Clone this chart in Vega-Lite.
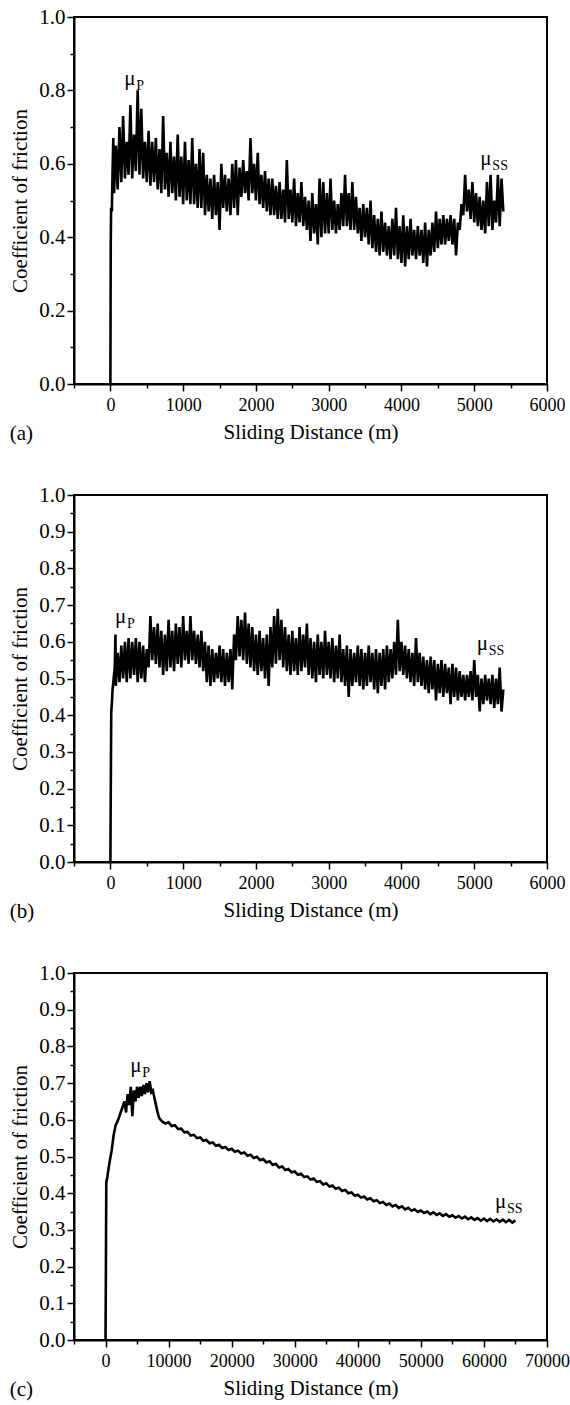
{
"$schema": "https://vega.github.io/schema/vega-lite/v6.json",
"padding": {"left": 8, "top": 5, "right": 5, "bottom": 5},
"spacing": 38,
"background": "white",
"config": {
  "font": "Liberation Serif, Times New Roman, serif",
  "view": {"stroke": "black", "strokeWidth": 2},
  "axis": {"domainColor": "black", "domainWidth": 2, "tickColor": "black", "tickWidth": 1.5, "labelColor": "black", "titleColor": "black", "labelFont": "Liberation Serif, Times New Roman, serif", "titleFont": "Liberation Serif, Times New Roman, serif", "titleFontWeight": "normal", "grid": false, "titleFontSize": 21, "labelFlush": false, "labelOverlap": false, "labelBound": false},
  "text": {"font": "Liberation Serif, Times New Roman, serif"},
  "title": {"font": "Liberation Serif, Times New Roman, serif", "fontSize": 21, "fontWeight": "normal", "color": "black"}
},
"datasets": {
"a": [{"d":0,"mu":0},{"d":5,"mu":0.38},{"d":10,"mu":0.48},{"d":20,"mu":0.47},{"d":30,"mu":0.58},{"d":40,"mu":0.67},
{"d":50,"mu":0.52},{"d":75,"mu":0.65},{"d":100,"mu":0.53},{"d":125,"mu":0.70},{"d":150,"mu":0.55},{"d":175,"mu":0.73},{"d":200,"mu":0.56},{"d":225,"mu":0.66},{"d":250,"mu":0.57},{"d":275,"mu":0.76},{"d":300,"mu":0.56},{"d":325,"mu":0.68},{"d":350,"mu":0.58},{"d":375,"mu":0.80},{"d":400,"mu":0.57},{"d":425,"mu":0.75},{"d":450,"mu":0.56},{"d":475,"mu":0.66},{"d":500,"mu":0.55},{"d":525,"mu":0.69},{"d":550,"mu":0.54},{"d":575,"mu":0.66},{"d":600,"mu":0.55},{"d":625,"mu":0.67},{"d":650,"mu":0.53},{"d":675,"mu":0.64},{"d":700,"mu":0.52},{"d":725,"mu":0.73},{"d":750,"mu":0.53},{"d":775,"mu":0.63},{"d":800,"mu":0.51},{"d":825,"mu":0.66},{"d":850,"mu":0.52},{"d":875,"mu":0.62},{"d":900,"mu":0.50},{"d":925,"mu":0.68},{"d":950,"mu":0.51},{"d":975,"mu":0.62},
{"d":1000,"mu":0.49},{"d":1025,"mu":0.66},{"d":1050,"mu":0.50},{"d":1075,"mu":0.61},{"d":1100,"mu":0.49},{"d":1125,"mu":0.67},{"d":1150,"mu":0.49},{"d":1175,"mu":0.60},{"d":1200,"mu":0.48},{"d":1225,"mu":0.64},{"d":1250,"mu":0.48},{"d":1275,"mu":0.63},{"d":1300,"mu":0.46},{"d":1325,"mu":0.57},{"d":1350,"mu":0.47},{"d":1375,"mu":0.56},{"d":1400,"mu":0.45},{"d":1425,"mu":0.57},{"d":1450,"mu":0.46},{"d":1475,"mu":0.55},{"d":1500,"mu":0.42},{"d":1525,"mu":0.60},{"d":1550,"mu":0.48},{"d":1575,"mu":0.57},{"d":1600,"mu":0.47},{"d":1625,"mu":0.56},{"d":1650,"mu":0.46},{"d":1675,"mu":0.60},{"d":1700,"mu":0.48},{"d":1725,"mu":0.61},{"d":1750,"mu":0.46},{"d":1775,"mu":0.59},{"d":1800,"mu":0.51},{"d":1825,"mu":0.61},{"d":1850,"mu":0.52},{"d":1875,"mu":0.58},{"d":1900,"mu":0.50},{"d":1925,"mu":0.67},{"d":1950,"mu":0.52},{"d":1975,"mu":0.60},
{"d":2000,"mu":0.50},{"d":2025,"mu":0.63},{"d":2050,"mu":0.49},{"d":2075,"mu":0.57},{"d":2100,"mu":0.48},{"d":2125,"mu":0.58},{"d":2150,"mu":0.47},{"d":2175,"mu":0.56},{"d":2200,"mu":0.46},{"d":2225,"mu":0.56},{"d":2250,"mu":0.46},{"d":2275,"mu":0.54},{"d":2300,"mu":0.45},{"d":2325,"mu":0.55},{"d":2350,"mu":0.45},{"d":2375,"mu":0.53},{"d":2400,"mu":0.44},{"d":2425,"mu":0.61},{"d":2450,"mu":0.45},{"d":2475,"mu":0.53},{"d":2500,"mu":0.44},{"d":2525,"mu":0.56},{"d":2550,"mu":0.43},{"d":2575,"mu":0.52},{"d":2600,"mu":0.44},{"d":2625,"mu":0.55},{"d":2650,"mu":0.43},{"d":2675,"mu":0.51},{"d":2700,"mu":0.42},{"d":2725,"mu":0.50},{"d":2750,"mu":0.39},{"d":2775,"mu":0.52},{"d":2800,"mu":0.41},{"d":2825,"mu":0.49},{"d":2850,"mu":0.38},{"d":2875,"mu":0.56},{"d":2900,"mu":0.40},{"d":2925,"mu":0.55},{"d":2950,"mu":0.41},{"d":2975,"mu":0.52},
{"d":3000,"mu":0.41},{"d":3025,"mu":0.56},{"d":3050,"mu":0.42},{"d":3075,"mu":0.50},{"d":3100,"mu":0.41},{"d":3125,"mu":0.49},{"d":3150,"mu":0.42},{"d":3175,"mu":0.52},{"d":3200,"mu":0.43},{"d":3225,"mu":0.57},{"d":3250,"mu":0.43},{"d":3275,"mu":0.52},{"d":3300,"mu":0.42},{"d":3325,"mu":0.55},{"d":3350,"mu":0.42},{"d":3375,"mu":0.51},{"d":3400,"mu":0.41},{"d":3425,"mu":0.48},{"d":3450,"mu":0.39},{"d":3475,"mu":0.49},{"d":3500,"mu":0.40},{"d":3525,"mu":0.48},{"d":3550,"mu":0.38},{"d":3575,"mu":0.50},{"d":3600,"mu":0.37},{"d":3625,"mu":0.46},{"d":3650,"mu":0.36},{"d":3675,"mu":0.45},{"d":3700,"mu":0.35},{"d":3725,"mu":0.47},{"d":3750,"mu":0.36},{"d":3775,"mu":0.44},{"d":3800,"mu":0.35},{"d":3825,"mu":0.43},{"d":3850,"mu":0.34},{"d":3875,"mu":0.45},{"d":3900,"mu":0.35},{"d":3925,"mu":0.48},{"d":3950,"mu":0.34},{"d":3975,"mu":0.43},
{"d":4000,"mu":0.33},{"d":4025,"mu":0.46},{"d":4050,"mu":0.32},{"d":4075,"mu":0.43},{"d":4100,"mu":0.34},{"d":4125,"mu":0.45},{"d":4150,"mu":0.35},{"d":4175,"mu":0.42},{"d":4200,"mu":0.34},{"d":4225,"mu":0.43},{"d":4250,"mu":0.35},{"d":4275,"mu":0.42},{"d":4300,"mu":0.33},{"d":4325,"mu":0.44},{"d":4350,"mu":0.32},{"d":4375,"mu":0.42},{"d":4400,"mu":0.35},{"d":4425,"mu":0.44},{"d":4450,"mu":0.36},{"d":4475,"mu":0.47},{"d":4500,"mu":0.37},{"d":4525,"mu":0.45},{"d":4550,"mu":0.38},{"d":4575,"mu":0.46},{"d":4600,"mu":0.38},{"d":4625,"mu":0.45},{"d":4650,"mu":0.39},{"d":4675,"mu":0.46},{"d":4700,"mu":0.38},{"d":4725,"mu":0.45},{"d":4750,"mu":0.35},{"d":4775,"mu":0.44},{"d":4800,"mu":0.42},{"d":4825,"mu":0.49},{"d":4850,"mu":0.46},{"d":4875,"mu":0.57},{"d":4900,"mu":0.47},{"d":4925,"mu":0.53},{"d":4950,"mu":0.45},{"d":4975,"mu":0.55},
{"d":5000,"mu":0.44},{"d":5025,"mu":0.52},{"d":5050,"mu":0.43},{"d":5075,"mu":0.51},{"d":5100,"mu":0.42},{"d":5125,"mu":0.50},{"d":5150,"mu":0.41},{"d":5175,"mu":0.55},{"d":5200,"mu":0.43},{"d":5225,"mu":0.57},{"d":5250,"mu":0.42},{"d":5275,"mu":0.50},{"d":5300,"mu":0.44},{"d":5325,"mu":0.57},{"d":5350,"mu":0.43},{"d":5375,"mu":0.56},{"d":5400,"mu":0.47}],
"b": [{"d":0,"mu":0},{"d":8,"mu":0.29},{"d":12,"mu":0.41},{"d":20,"mu":0.43},{"d":30,"mu":0.47},{"d":45,"mu":0.50},{"d":60,"mu":0.53},{"d":70,"mu":0.62},
{"d":75,"mu":0.48},{"d":100,"mu":0.57},{"d":125,"mu":0.49},{"d":150,"mu":0.59},{"d":175,"mu":0.50},{"d":200,"mu":0.60},{"d":225,"mu":0.49},{"d":250,"mu":0.61},{"d":275,"mu":0.50},{"d":300,"mu":0.60},{"d":325,"mu":0.51},{"d":350,"mu":0.61},{"d":375,"mu":0.49},{"d":400,"mu":0.60},{"d":425,"mu":0.50},{"d":450,"mu":0.59},{"d":475,"mu":0.49},{"d":500,"mu":0.58},{"d":525,"mu":0.53},{"d":550,"mu":0.67},{"d":575,"mu":0.55},{"d":600,"mu":0.64},{"d":625,"mu":0.54},{"d":650,"mu":0.65},{"d":675,"mu":0.53},{"d":700,"mu":0.63},{"d":725,"mu":0.51},{"d":750,"mu":0.62},{"d":775,"mu":0.52},{"d":800,"mu":0.66},{"d":825,"mu":0.53},{"d":850,"mu":0.63},{"d":875,"mu":0.52},{"d":900,"mu":0.65},{"d":925,"mu":0.54},{"d":950,"mu":0.64},{"d":975,"mu":0.53},
{"d":1000,"mu":0.67},{"d":1025,"mu":0.55},{"d":1050,"mu":0.63},{"d":1075,"mu":0.54},{"d":1100,"mu":0.67},{"d":1125,"mu":0.55},{"d":1150,"mu":0.63},{"d":1175,"mu":0.54},{"d":1200,"mu":0.62},{"d":1225,"mu":0.53},{"d":1250,"mu":0.63},{"d":1275,"mu":0.52},{"d":1300,"mu":0.60},{"d":1325,"mu":0.49},{"d":1350,"mu":0.59},{"d":1375,"mu":0.48},{"d":1400,"mu":0.58},{"d":1425,"mu":0.49},{"d":1450,"mu":0.57},{"d":1475,"mu":0.50},{"d":1500,"mu":0.59},{"d":1525,"mu":0.49},{"d":1550,"mu":0.58},{"d":1575,"mu":0.48},{"d":1600,"mu":0.57},{"d":1625,"mu":0.49},{"d":1650,"mu":0.58},{"d":1675,"mu":0.47},{"d":1700,"mu":0.62},{"d":1725,"mu":0.55},{"d":1750,"mu":0.67},{"d":1775,"mu":0.56},{"d":1800,"mu":0.66},{"d":1825,"mu":0.55},{"d":1850,"mu":0.68},{"d":1875,"mu":0.54},{"d":1900,"mu":0.65},{"d":1925,"mu":0.53},{"d":1950,"mu":0.64},{"d":1975,"mu":0.52},
{"d":2000,"mu":0.62},{"d":2025,"mu":0.51},{"d":2050,"mu":0.63},{"d":2075,"mu":0.52},{"d":2100,"mu":0.61},{"d":2125,"mu":0.50},{"d":2150,"mu":0.62},{"d":2175,"mu":0.48},{"d":2200,"mu":0.64},{"d":2225,"mu":0.53},{"d":2250,"mu":0.67},{"d":2275,"mu":0.54},{"d":2300,"mu":0.69},{"d":2325,"mu":0.55},{"d":2350,"mu":0.66},{"d":2375,"mu":0.53},{"d":2400,"mu":0.64},{"d":2425,"mu":0.52},{"d":2450,"mu":0.62},{"d":2475,"mu":0.51},{"d":2500,"mu":0.63},{"d":2525,"mu":0.52},{"d":2550,"mu":0.61},{"d":2575,"mu":0.51},{"d":2600,"mu":0.64},{"d":2625,"mu":0.52},{"d":2650,"mu":0.62},{"d":2675,"mu":0.53},{"d":2700,"mu":0.65},{"d":2725,"mu":0.51},{"d":2750,"mu":0.61},{"d":2775,"mu":0.50},{"d":2800,"mu":0.60},{"d":2825,"mu":0.49},{"d":2850,"mu":0.62},{"d":2875,"mu":0.51},{"d":2900,"mu":0.60},{"d":2925,"mu":0.50},{"d":2950,"mu":0.63},{"d":2975,"mu":0.51},
{"d":3000,"mu":0.60},{"d":3025,"mu":0.50},{"d":3050,"mu":0.61},{"d":3075,"mu":0.49},{"d":3100,"mu":0.59},{"d":3125,"mu":0.50},{"d":3150,"mu":0.62},{"d":3175,"mu":0.49},{"d":3200,"mu":0.58},{"d":3225,"mu":0.48},{"d":3250,"mu":0.59},{"d":3275,"mu":0.45},{"d":3300,"mu":0.58},{"d":3325,"mu":0.48},{"d":3350,"mu":0.57},{"d":3375,"mu":0.49},{"d":3400,"mu":0.59},{"d":3425,"mu":0.48},{"d":3450,"mu":0.58},{"d":3475,"mu":0.47},{"d":3500,"mu":0.57},{"d":3525,"mu":0.48},{"d":3550,"mu":0.59},{"d":3575,"mu":0.49},{"d":3600,"mu":0.57},{"d":3625,"mu":0.47},{"d":3650,"mu":0.58},{"d":3675,"mu":0.46},{"d":3700,"mu":0.57},{"d":3725,"mu":0.48},{"d":3750,"mu":0.58},{"d":3775,"mu":0.47},{"d":3800,"mu":0.59},{"d":3825,"mu":0.49},{"d":3850,"mu":0.58},{"d":3875,"mu":0.50},{"d":3900,"mu":0.60},{"d":3925,"mu":0.51},{"d":3950,"mu":0.66},{"d":3975,"mu":0.52},
{"d":4000,"mu":0.60},{"d":4025,"mu":0.51},{"d":4050,"mu":0.59},{"d":4075,"mu":0.50},{"d":4100,"mu":0.58},{"d":4125,"mu":0.49},{"d":4150,"mu":0.57},{"d":4175,"mu":0.48},{"d":4200,"mu":0.61},{"d":4225,"mu":0.49},{"d":4250,"mu":0.57},{"d":4275,"mu":0.48},{"d":4300,"mu":0.56},{"d":4325,"mu":0.47},{"d":4350,"mu":0.55},{"d":4375,"mu":0.46},{"d":4400,"mu":0.56},{"d":4425,"mu":0.47},{"d":4450,"mu":0.55},{"d":4475,"mu":0.44},{"d":4500,"mu":0.54},{"d":4525,"mu":0.46},{"d":4550,"mu":0.55},{"d":4575,"mu":0.45},{"d":4600,"mu":0.54},{"d":4625,"mu":0.46},{"d":4650,"mu":0.53},{"d":4675,"mu":0.43},{"d":4700,"mu":0.54},{"d":4725,"mu":0.45},{"d":4750,"mu":0.53},{"d":4775,"mu":0.44},{"d":4800,"mu":0.52},{"d":4825,"mu":0.45},{"d":4850,"mu":0.51},{"d":4875,"mu":0.44},{"d":4900,"mu":0.51},{"d":4925,"mu":0.45},{"d":4950,"mu":0.52},{"d":4975,"mu":0.44},
{"d":5000,"mu":0.55},{"d":5025,"mu":0.45},{"d":5050,"mu":0.51},{"d":5075,"mu":0.41},{"d":5100,"mu":0.50},{"d":5125,"mu":0.43},{"d":5150,"mu":0.51},{"d":5175,"mu":0.44},{"d":5200,"mu":0.50},{"d":5225,"mu":0.43},{"d":5250,"mu":0.51},{"d":5275,"mu":0.42},{"d":5300,"mu":0.50},{"d":5325,"mu":0.43},{"d":5350,"mu":0.53},{"d":5375,"mu":0.41},{"d":5400,"mu":0.47}],
"c": [{"d":0,"mu":0},{"d":60,"mu":0.20},{"d":120,"mu":0.43},{"d":300,"mu":0.445},{"d":500,"mu":0.47},{"d":800,"mu":0.50},{"d":1000,"mu":0.52},{"d":1300,"mu":0.56},{"d":1600,"mu":0.585},{"d":2000,"mu":0.60},{"d":2400,"mu":0.62},{"d":2700,"mu":0.635},{"d":3000,"mu":0.65},{"d":3250,"mu":0.62},{"d":3500,"mu":0.67},{"d":3750,"mu":0.64},{"d":4000,"mu":0.69},{"d":4250,"mu":0.61},{"d":4500,"mu":0.68},{"d":4750,"mu":0.65},{"d":5000,"mu":0.69},{"d":5250,"mu":0.66},{"d":5500,"mu":0.69},{"d":5750,"mu":0.665},{"d":6000,"mu":0.695},{"d":6250,"mu":0.67},{"d":6500,"mu":0.70},{"d":6750,"mu":0.675},{"d":7000,"mu":0.705},{"d":7250,"mu":0.675},{"d":7500,"mu":0.68},{"d":7750,"mu":0.66},{"d":8000,"mu":0.64},{"d":8250,"mu":0.62},{"d":8500,"mu":0.605},{"d":8750,"mu":0.60},{"d":9000,"mu":0.595},{"d":9500,"mu":0.59},
{"d":10000,"mu":0.593},{"d":10500,"mu":0.583},{"d":11000,"mu":0.585},{"d":11500,"mu":0.575},{"d":12000,"mu":0.576},{"d":12500,"mu":0.566},{"d":13000,"mu":0.567},{"d":13500,"mu":0.557},{"d":14000,"mu":0.559},{"d":14500,"mu":0.550},{"d":15000,"mu":0.552},{"d":15500,"mu":0.543},{"d":16000,"mu":0.545},{"d":16500,"mu":0.536},{"d":17000,"mu":0.538},{"d":17500,"mu":0.529},{"d":18000,"mu":0.532},{"d":18500,"mu":0.523},{"d":19000,"mu":0.526},{"d":19500,"mu":0.518},
{"d":20000,"mu":0.521},{"d":20500,"mu":0.513},{"d":21000,"mu":0.516},{"d":21500,"mu":0.508},{"d":22000,"mu":0.511},{"d":22500,"mu":0.502},{"d":23000,"mu":0.505},{"d":23500,"mu":0.496},{"d":24000,"mu":0.499},{"d":24500,"mu":0.490},{"d":25000,"mu":0.493},{"d":25500,"mu":0.484},{"d":26000,"mu":0.487},{"d":26500,"mu":0.477},{"d":27000,"mu":0.480},{"d":27500,"mu":0.470},{"d":28000,"mu":0.473},{"d":28500,"mu":0.463},{"d":29000,"mu":0.466},{"d":29500,"mu":0.457},
{"d":30000,"mu":0.459},{"d":30500,"mu":0.450},{"d":31000,"mu":0.453},{"d":31500,"mu":0.444},{"d":32000,"mu":0.446},{"d":32500,"mu":0.437},{"d":33000,"mu":0.440},{"d":33500,"mu":0.431},{"d":34000,"mu":0.433},{"d":34500,"mu":0.424},{"d":35000,"mu":0.427},{"d":35500,"mu":0.418},{"d":36000,"mu":0.421},{"d":36500,"mu":0.412},{"d":37000,"mu":0.415},{"d":37500,"mu":0.406},{"d":38000,"mu":0.409},{"d":38500,"mu":0.400},{"d":39000,"mu":0.402},{"d":39500,"mu":0.393},
{"d":40000,"mu":0.396},{"d":40500,"mu":0.388},{"d":41000,"mu":0.391},{"d":41500,"mu":0.383},{"d":42000,"mu":0.386},{"d":42500,"mu":0.378},{"d":43000,"mu":0.381},{"d":43500,"mu":0.373},{"d":44000,"mu":0.376},{"d":44500,"mu":0.368},{"d":45000,"mu":0.372},{"d":45500,"mu":0.364},{"d":46000,"mu":0.368},{"d":46500,"mu":0.360},{"d":47000,"mu":0.364},{"d":47500,"mu":0.356},{"d":48000,"mu":0.360},{"d":48500,"mu":0.352},{"d":49000,"mu":0.356},{"d":49500,"mu":0.349},
{"d":50000,"mu":0.353},{"d":50500,"mu":0.346},{"d":51000,"mu":0.350},{"d":51500,"mu":0.343},{"d":52000,"mu":0.348},{"d":52500,"mu":0.341},{"d":53000,"mu":0.345},{"d":53500,"mu":0.338},{"d":54000,"mu":0.343},{"d":54500,"mu":0.336},{"d":55000,"mu":0.340},{"d":55500,"mu":0.333},{"d":56000,"mu":0.338},{"d":56500,"mu":0.331},{"d":57000,"mu":0.336},{"d":57500,"mu":0.329},{"d":58000,"mu":0.334},{"d":58500,"mu":0.327},{"d":59000,"mu":0.332},{"d":59500,"mu":0.325},
{"d":60000,"mu":0.331},{"d":60500,"mu":0.324},{"d":61000,"mu":0.330},{"d":61500,"mu":0.323},{"d":62000,"mu":0.329},{"d":62500,"mu":0.322},{"d":63000,"mu":0.328},{"d":63500,"mu":0.321},{"d":64000,"mu":0.327},{"d":64500,"mu":0.320},{"d":65000,"mu":0.326}]
},
"vconcat": [
{
  "width": 473, "height": 367,
  "title": {"text": "(a)", "orient": "bottom", "anchor": "start", "frame": "bounds", "offset": -19},
  "resolve": {"axis": {"x": "independent", "y": "independent"}},
  "layer": [
    {"data": {"name": "a"}, "mark": {"type": "line", "color": "black", "strokeWidth": 2.6},
     "encoding": {
       "x": {"field": "d", "type": "quantitative", "scale": {"domain": [-500, 6000], "nice": false, "zero": false},
             "axis": {"orient": "bottom", "title": "Sliding Distance (m)", "values": [0,1000,2000,3000,4000,5000,6000], "format": "d", "tickSize": 7, "labelPadding": 5, "titlePadding": 7, "labelFontSize": 18}},
       "y": {"field": "mu", "type": "quantitative", "scale": {"domain": [0, 1], "nice": false},
             "axis": {"orient": "left", "title": "Coefficient of friction", "values": [0,0.2,0.4,0.6,0.8,1.0], "format": ".1f", "tickSize": 7, "labelPadding": 2, "titlePadding": 8, "labelFontSize": 21}}
     }},
    {"data": {"values": [{"d": 190, "mu": 0.815, "main": "μ", "sub": "P"}, {"d": 5084, "mu": 0.598, "main": "μ", "sub": "SS"}]},
     "mark": {"type": "text", "align": "left", "baseline": "alphabetic", "fontSize": 21, "color": "black"},
     "encoding": {"x": {"field": "d", "type": "quantitative", "axis": {"orient": "bottom", "values": [-500,500,1500,2500,3500,4500,5500], "tickSize": 4, "labels": false, "title": null, "domain": false}},
                  "y": {"field": "mu", "type": "quantitative", "axis": {"orient": "left", "values": [0.1,0.3,0.5,0.7,0.9], "tickSize": 4, "labels": false, "title": null, "domain": false}},
                  "text": {"field": "main"}}},
    {"data": {"values": [{"d": 190, "mu": 0.815, "main": "μ", "sub": "P"}, {"d": 5084, "mu": 0.598, "main": "μ", "sub": "SS"}]},
     "mark": {"type": "text", "align": "left", "baseline": "alphabetic", "fontSize": 14, "dx": 12, "dy": 5, "color": "black"},
     "encoding": {"x": {"field": "d", "type": "quantitative", "axis": null}, "y": {"field": "mu", "type": "quantitative", "axis": null}, "text": {"field": "sub"}}}
  ]
},
{
  "width": 473, "height": 367,
  "title": {"text": "(b)", "orient": "bottom", "anchor": "start", "frame": "bounds", "offset": -19},
  "resolve": {"axis": {"x": "independent", "y": "independent"}},
  "layer": [
    {"data": {"name": "b"}, "mark": {"type": "line", "color": "black", "strokeWidth": 2.6},
     "encoding": {
       "x": {"field": "d", "type": "quantitative", "scale": {"domain": [-500, 6000], "nice": false, "zero": false},
             "axis": {"orient": "bottom", "title": "Sliding Distance (m)", "values": [0,1000,2000,3000,4000,5000,6000], "format": "d", "tickSize": 7, "labelPadding": 5, "titlePadding": 7, "labelFontSize": 18}},
       "y": {"field": "mu", "type": "quantitative", "scale": {"domain": [0, 1], "nice": false},
             "axis": {"orient": "left", "title": "Coefficient of friction", "values": [0,0.1,0.2,0.3,0.4,0.5,0.6,0.7,0.8,0.9,1.0], "format": ".1f", "tickSize": 7, "labelPadding": 2, "titlePadding": 8, "labelFontSize": 21}}
     }},
    {"data": {"values": [{"d": 65, "mu": 0.651, "main": "μ", "sub": "P"}, {"d": 5034, "mu": 0.577, "main": "μ", "sub": "SS"}]},
     "mark": {"type": "text", "align": "left", "baseline": "alphabetic", "fontSize": 21, "color": "black"},
     "encoding": {"x": {"field": "d", "type": "quantitative", "axis": {"orient": "bottom", "values": [-500,500,1500,2500,3500,4500,5500], "tickSize": 4, "labels": false, "title": null, "domain": false}},
                  "y": {"field": "mu", "type": "quantitative", "axis": {"orient": "left", "values": [0.05,0.15,0.25,0.35,0.45,0.55,0.65,0.75,0.85,0.95], "tickSize": 4, "labels": false, "title": null, "domain": false}},
                  "text": {"field": "main"}}},
    {"data": {"values": [{"d": 65, "mu": 0.651, "main": "μ", "sub": "P"}, {"d": 5034, "mu": 0.577, "main": "μ", "sub": "SS"}]},
     "mark": {"type": "text", "align": "left", "baseline": "alphabetic", "fontSize": 14, "dx": 12, "dy": 5, "color": "black"},
     "encoding": {"x": {"field": "d", "type": "quantitative", "axis": null}, "y": {"field": "mu", "type": "quantitative", "axis": null}, "text": {"field": "sub"}}}
  ]
},
{
  "width": 473, "height": 367,
  "title": {"text": "(c)", "orient": "bottom", "anchor": "start", "frame": "bounds", "offset": -19},
  "resolve": {"axis": {"x": "independent", "y": "independent"}},
  "layer": [
    {"data": {"name": "c"}, "mark": {"type": "line", "color": "black", "strokeWidth": 2.6},
     "encoding": {
       "x": {"field": "d", "type": "quantitative", "scale": {"domain": [-5000, 70000], "nice": false, "zero": false},
             "axis": {"orient": "bottom", "title": "Sliding Distance (m)", "values": [0,10000,20000,30000,40000,50000,60000,70000], "format": "d", "tickSize": 7, "labelPadding": 5, "titlePadding": 7, "labelFontSize": 18}},
       "y": {"field": "mu", "type": "quantitative", "scale": {"domain": [0, 1], "nice": false},
             "axis": {"orient": "left", "title": "Coefficient of friction", "values": [0,0.1,0.2,0.3,0.4,0.5,0.6,0.7,0.8,0.9,1.0], "format": ".1f", "tickSize": 7, "labelPadding": 2, "titlePadding": 8, "labelFontSize": 21}}
     }},
    {"data": {"values": [{"d": 3930, "mu": 0.73, "main": "μ", "sub": "P"}, {"d": 61740, "mu": 0.36, "main": "μ", "sub": "SS"}]},
     "mark": {"type": "text", "align": "left", "baseline": "alphabetic", "fontSize": 21, "color": "black"},
     "encoding": {"x": {"field": "d", "type": "quantitative", "axis": {"orient": "bottom", "values": [-5000,5000,15000,25000,35000,45000,55000,65000], "tickSize": 4, "labels": false, "title": null, "domain": false}},
                  "y": {"field": "mu", "type": "quantitative", "axis": {"orient": "left", "values": [0.05,0.15,0.25,0.35,0.45,0.55,0.65,0.75,0.85,0.95], "tickSize": 4, "labels": false, "title": null, "domain": false}},
                  "text": {"field": "main"}}},
    {"data": {"values": [{"d": 3930, "mu": 0.73, "main": "μ", "sub": "P"}, {"d": 61740, "mu": 0.36, "main": "μ", "sub": "SS"}]},
     "mark": {"type": "text", "align": "left", "baseline": "alphabetic", "fontSize": 14, "dx": 12, "dy": 5, "color": "black"},
     "encoding": {"x": {"field": "d", "type": "quantitative", "axis": null}, "y": {"field": "mu", "type": "quantitative", "axis": null}, "text": {"field": "sub"}}}
  ]
}
]
}
